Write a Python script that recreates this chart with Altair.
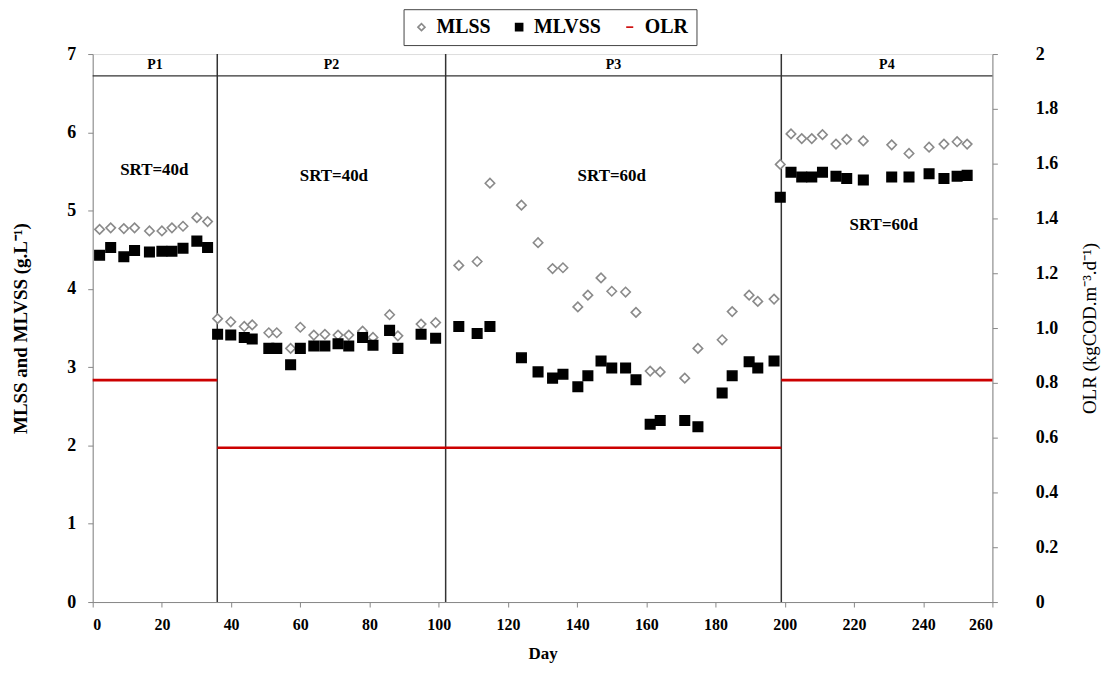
import altair as alt
import pandas as pd

# ---- data ----
days = [2.0, 5.2, 9.0, 12.1, 16.4, 20.0, 22.9, 26.1, 30.1, 33.2,
        36.1, 39.9, 43.8, 46.1, 50.9, 53.2, 57.2, 60.0, 63.9, 67.1, 70.9, 74.0, 78.0, 81.0, 85.8, 88.2, 94.9, 99.1,
        105.8, 111.1, 114.8, 123.9, 128.7, 132.9, 135.9, 140.2, 143.1, 146.9, 150.0, 154.0, 157.0, 161.1, 164.0,
        171.1, 174.9, 181.9, 184.8, 189.7, 192.2, 196.9,
        198.7, 201.8, 204.9, 207.8, 210.9, 214.8, 217.9, 222.7, 230.9, 235.9, 241.7, 246.0, 249.8, 252.7]
mlss = [4.76, 4.78, 4.77, 4.78, 4.74, 4.74, 4.78, 4.80, 4.91, 4.86,
        3.62, 3.58, 3.52, 3.54, 3.44, 3.44, 3.24, 3.51, 3.41, 3.42, 3.41, 3.41, 3.46, 3.38, 3.67, 3.40, 3.55, 3.57,
        4.30, 4.35, 5.35, 5.07, 4.59, 4.26, 4.27, 3.77, 3.92, 4.14, 3.97, 3.96, 3.70, 2.95, 2.94,
        2.86, 3.24, 3.35, 3.71, 3.92, 3.84, 3.87,
        5.59, 5.98, 5.92, 5.92, 5.97, 5.85, 5.91, 5.89, 5.84, 5.73, 5.81, 5.85, 5.88, 5.85]
mlvss = [4.43, 4.53, 4.41, 4.49, 4.47, 4.48, 4.48, 4.52, 4.61, 4.53,
         3.42, 3.41, 3.38, 3.36, 3.24, 3.24, 3.03, 3.24, 3.27, 3.27, 3.30, 3.27, 3.38, 3.28, 3.47, 3.24, 3.42, 3.37,
         3.52, 3.43, 3.52, 3.12, 2.94, 2.86, 2.91, 2.75, 2.89, 3.08, 2.99, 2.99, 2.84, 2.27, 2.32,
         2.32, 2.24, 2.67, 2.89, 3.07, 2.99, 3.08,
         5.17, 5.49, 5.43, 5.43, 5.49, 5.44, 5.41, 5.39, 5.43, 5.43, 5.47, 5.41, 5.44, 5.45]

olr_start = [0, 36, 199]
olr_end = [36, 199, 260]
olr_value = [0.81, 0.563, 0.81]

phase_bounds = [0, 36, 102, 199, 260]
phase_names = ["P1", "P2", "P3", "P4"]
phase_label_y = 6.86
band_y = 6.72

srt_text = ["SRT=40d", "SRT=40d", "SRT=60d", "SRT=60d"]
srt_day = [17.8, 69.7, 150.0, 228.6]
srt_y = [5.52, 5.44, 5.44, 4.81]

series_names = ["MLSS", "MLVSS", "OLR"]

FONT = "Liberation Serif"
W, H = 903, 550

# ---- tables ----
pts = pd.DataFrame({
    "day": days * 2,
    "value": mlss + mlvss,
    "series": ["MLSS"] * len(days) + ["MLVSS"] * len(days),
})
olr = pd.DataFrame({"start": olr_start, "end": olr_end, "olr": olr_value, "series": ["OLR"] * 3})
vlines = pd.DataFrame({"day": phase_bounds[1:-1], "y0": [0] * 3, "y1": [7] * 3})
band = pd.DataFrame({"x0": [phase_bounds[0]], "x1": [phase_bounds[-1]], "y": [band_y]})
plabels = pd.DataFrame({
    "day": [(a + b) / 2 for a, b in zip(phase_bounds[:-1], phase_bounds[1:])],
    "y": [phase_label_y] * 4,
    "label": phase_names,
})
srt = pd.DataFrame({"day": srt_day, "y": srt_y, "label": srt_text})

x_axis = alt.Axis(values=list(range(0, 261, 20)), grid=False, labelFont=FONT, labelFontSize=16,
                  labelFontWeight="bold", labelColor="black", title="Day", titleFont=FONT,
                  titleFontSize=17, titleFontWeight="bold", titleColor="black", titlePadding=13,
                  domainColor="#888", tickColor="#888", tickSize=5, labelPadding=10)

xscale = alt.Scale(domain=[0, 260], nice=False, zero=False)
yscale = alt.Scale(domain=[0, 7], nice=False)


def xenc(field):
    return alt.X(field, type="quantitative", scale=xscale, axis=x_axis)


fill_scale = alt.Scale(domain=series_names, range=["white", "black", "#cc0000"])
stroke_scale = alt.Scale(domain=series_names, range=["#8a8a8a", "black", "#cc0000"])
shape_scale = alt.Scale(domain=series_names, range=["diamond", "square", "stroke"])

legend = alt.Legend(title=None, orient="none", legendX=312, legendY=-45, direction="horizontal")

left_axis = alt.Axis(values=list(range(0, 8)), format="d", grid=False, labelFont=FONT, labelFontSize=18,
                     labelFontWeight="bold", labelColor="black",
                     title="MLSS and MLVSS  (g.L⁻¹)", titleFont=FONT, titleFontSize=19,
                     titleFontWeight="bold", titleColor="black", titlePadding=36,
                     domainColor="#888", tickColor="#888", tickSize=5, labelPadding=12)

points = alt.Chart(pts).mark_point(opacity=1, strokeWidth=1.6, size=90).encode(
    x=xenc("day"),
    y=alt.Y("value:Q", scale=yscale, axis=left_axis),
    fill=alt.Fill("series:N", scale=fill_scale, legend=legend),
    stroke=alt.Stroke("series:N", scale=stroke_scale, legend=legend),
    shape=alt.Shape("series:N", scale=shape_scale, legend=legend),
)

phase_lines = alt.Chart(vlines).mark_rule(color="#333", strokeWidth=1.5).encode(
    x=xenc("day"), y=alt.Y("y0:Q", scale=yscale, axis=None), y2="y1:Q")

band_line = alt.Chart(band).mark_rule(color="#333", strokeWidth=1.2).encode(
    x=xenc("x0"), x2="x1:Q", y=alt.Y("y:Q", scale=yscale, axis=None))

phase_text = alt.Chart(plabels).mark_text(font=FONT, fontSize=14, fontWeight="bold", color="black").encode(
    x=xenc("day"), y=alt.Y("y:Q", scale=yscale, axis=None), text="label:N")

srt_marks = alt.Chart(srt).mark_text(font=FONT, fontSize=17, fontWeight="bold", color="black").encode(
    x=xenc("day"), y=alt.Y("y:Q", scale=yscale, axis=None), text="label:N")

right_axis = alt.Axis(orient="right", values=[round(0.2 * i, 1) for i in range(11)], grid=False,
                      labelFont=FONT, labelFontSize=18, labelFontWeight="bold", labelColor="black",
                      labelExpr="datum.value == 0 ? '0' : (datum.value == 2 ? '2' : format(datum.value, '.1f'))",
                      title="OLR (kgCOD.m⁻³.d⁻¹)", titleFont=FONT, titleFontSize=19,
                      titleFontWeight="normal", titleColor="black", titleAngle=270, titlePadding=42,
                      domainColor="#888", tickColor="#888", tickSize=5, labelPadding=38)

olr_layer = alt.Chart(olr).mark_rule(strokeWidth=2.6).encode(
    x=xenc("start"), x2="end:Q",
    y=alt.Y("olr:Q", scale=alt.Scale(domain=[0, 2], nice=False), axis=right_axis),
    stroke=alt.Stroke("series:N", scale=stroke_scale, legend=legend),
)

chart = alt.layer(phase_lines, band_line, points, phase_text, srt_marks, olr_layer).resolve_scale(
    y="independent"
).properties(
    width=W, height=H,
    autosize=alt.AutoSizeParams(type="none"),
    padding={"left": 85, "top": 45, "right": 110, "bottom": 65},
).configure_view(stroke="#888", strokeWidth=1).configure(background="white").configure_legend(
    strokeColor="#444", padding=8, columnPadding=18, labelFont=FONT, labelFontSize=20,
    labelFontWeight="bold", labelColor="black", symbolSize=50, symbolStrokeWidth=1.6,
    labelOffset=5,
)

chart.save("out.html", embed_options={"renderer": "svg", "actions": False})
